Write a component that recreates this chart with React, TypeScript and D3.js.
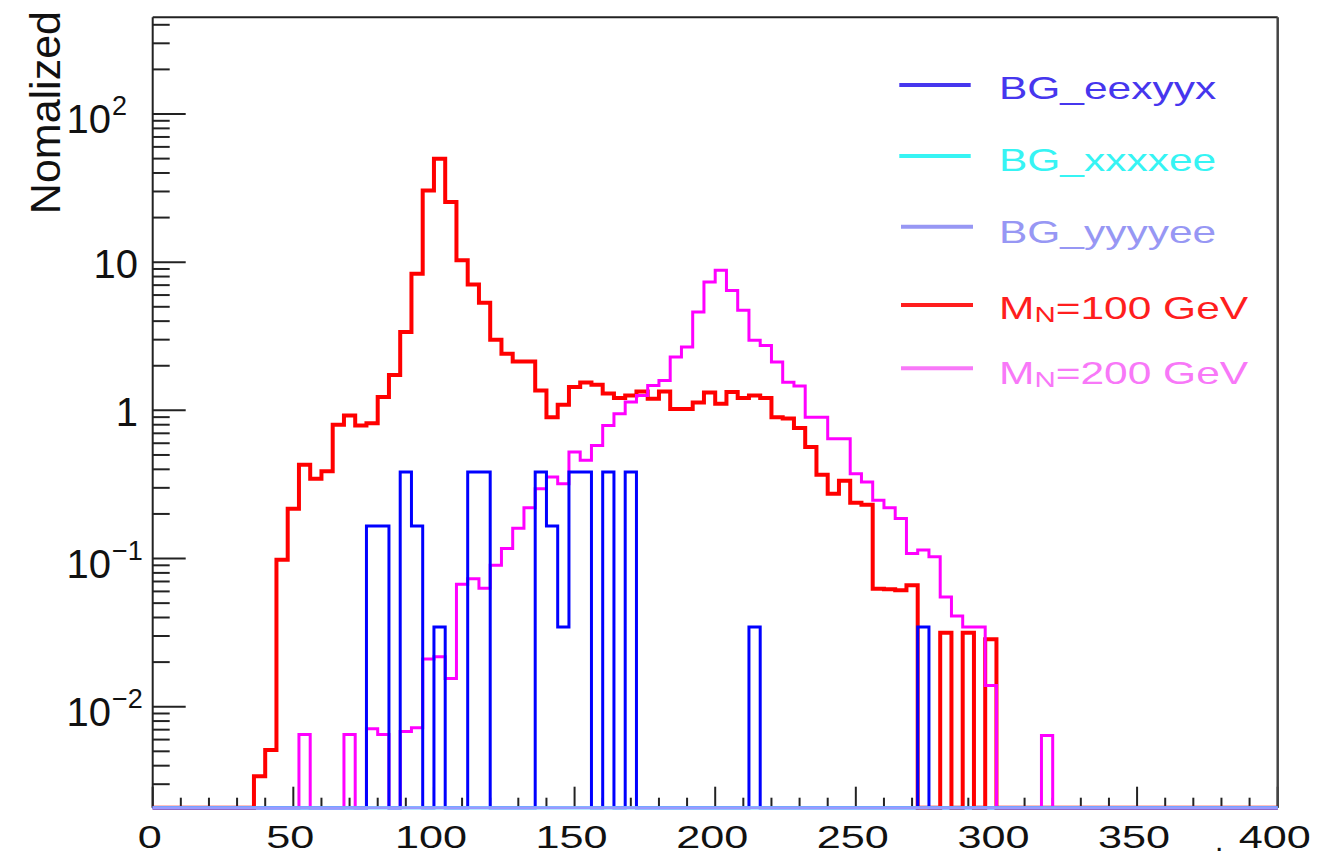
import React from "react";
import * as d3 from "d3";

// 100 bins, 4 GeV wide, 0..400
const binLow = d3.range(0, 400, 4);

const bgEexyyx = [
  0, 0, 0, 0, 0, 0, 0, 0, 0, 0,
  0, 0, 0, 0, 0, 0, 0, 0, 0, 0.166,
  0.166, 0, 0.384, 0.166, 0, 0.0345, 0, 0, 0.384, 0.384,
  0, 0, 0, 0, 0.384, 0.166, 0.0345, 0.384, 0.384, 0,
  0.384, 0, 0.384, 0, 0, 0, 0, 0, 0, 0,
  0, 0, 0, 0.0345, 0, 0, 0, 0, 0, 0,
  0, 0, 0, 0, 0, 0, 0, 0, 0.0345, 0,
  0, 0, 0, 0, 0, 0, 0, 0, 0, 0,
  0, 0, 0, 0, 0, 0, 0, 0, 0, 0,
  0, 0, 0, 0, 0, 0, 0, 0, 0, 0,
];

const bgXxxxee = [
  0, 0, 0, 0, 0, 0, 0, 0, 0, 0,
  0, 0, 0, 0, 0, 0, 0, 0, 0, 0,
  0, 0, 0, 0, 0, 0, 0, 0, 0, 0,
  0, 0, 0, 0, 0, 0, 0, 0, 0, 0,
  0, 0, 0, 0, 0, 0, 0, 0, 0, 0,
  0, 0, 0, 0, 0, 0, 0, 0, 0, 0,
  0, 0, 0, 0, 0, 0, 0, 0, 0, 0,
  0, 0, 0, 0, 0, 0, 0, 0, 0, 0,
  0, 0, 0, 0, 0, 0, 0, 0, 0, 0,
  0, 0, 0, 0, 0, 0, 0, 0, 0, 0,
];

const bgYyyyee = [
  0, 0, 0, 0, 0, 0, 0, 0, 0, 0,
  0, 0, 0, 0, 0, 0, 0, 0, 0, 0,
  0, 0, 0, 0, 0, 0, 0, 0, 0, 0,
  0, 0, 0, 0, 0, 0, 0, 0, 0, 0,
  0, 0, 0, 0, 0, 0, 0, 0, 0, 0,
  0, 0, 0, 0, 0, 0, 0, 0, 0, 0,
  0, 0, 0, 0, 0, 0, 0, 0, 0, 0,
  0, 0, 0, 0, 0, 0, 0, 0, 0, 0,
  0, 0, 0, 0, 0, 0, 0, 0, 0, 0,
  0, 0, 0, 0, 0, 0, 0, 0, 0, 0,
];

const mn100 = [
  0, 0, 0, 0, 0, 0, 0, 0, 0, 0.0034,
  0.0051, 0.098, 0.217, 0.43, 0.346, 0.388, 0.8, 0.925, 0.79, 0.82,
  1.23, 1.73, 3.38, 8.36, 30.5, 49.9, 25.5, 10.3, 7.08, 5.33,
  3.0, 2.41, 2.14, 2.14, 1.36, 0.9, 1.09, 1.44, 1.54, 1.49,
  1.3, 1.21, 1.26, 1.34, 1.2, 1.34, 1.02, 1.02, 1.13, 1.32,
  1.11, 1.33, 1.21, 1.26, 1.21, 0.9, 0.88, 0.76, 0.566, 0.368,
  0.274, 0.335, 0.238, 0.231, 0.0626, 0.062, 0.061, 0.066, 0, 0,
  0.0316, 0, 0.0316, 0, 0.0285, 0, 0, 0, 0, 0,
  0, 0, 0, 0, 0, 0, 0, 0, 0, 0,
  0, 0, 0, 0, 0, 0, 0, 0, 0, 0,
];

const mn200 = [
  0, 0, 0, 0, 0, 0, 0, 0, 0, 0,
  0, 0, 0, 0.0065, 0, 0, 0, 0.0065, 0, 0.0071,
  0.0065, 0, 0.0068, 0.0072, 0.021, 0.0217, 0.0155, 0.067, 0.073, 0.063,
  0.09, 0.117, 0.16, 0.22, 0.296, 0.355, 0.32, 0.524, 0.46, 0.58,
  0.79, 0.95, 1.14, 1.26, 1.47, 1.59, 2.29, 2.68, 4.61, 7.35,
  8.81, 6.45, 4.73, 2.97, 2.74, 2.12, 1.55, 1.46, 0.9, 0.9,
  0.644, 0.644, 0.374, 0.329, 0.247, 0.22, 0.186, 0.108, 0.114, 0.103,
  0.055, 0.041, 0.0345, 0.0345, 0.0139, 0, 0, 0, 0, 0.0064,
  0, 0, 0, 0, 0, 0, 0, 0, 0, 0,
  0, 0, 0, 0, 0, 0, 0, 0, 0, 0,
];

const legendLabels = ["BG_eexyyx", "BG_xxxxee", "BG_yyyyee", "M_N=100 GeV", "M_N=200 GeV"];
const xLabelValues = [0, 50, 100, 150, 200, 250, 300, 350, 400];
const yLabelValues = [100, 10, 1, 0.1, 0.01];
const yLabelBase = ["10", "10", "1", "10", "10"];
const yLabelExp = ["2", "", "", "\u22121", "\u22122"];

const FONT = "'Liberation Sans', Arial, Helvetica, sans-serif";

export default function App() {
  const x = d3.scaleLinear().domain([0, 400]).range([152.7, 1277.7]);
  const yMin = 0.002082;
  const y = d3.scaleLog().domain([yMin, 449.4]).range([807.7, 17.3]);
  const yPos = (v: number) => (v > yMin ? y(v) : y(yMin));

  const step = d3
    .line<[number, number]>()
    .x((d) => x(d[0]))
    .y((d) => yPos(d[1]))
    .curve(d3.curveStepAfter);
  const histPath = (vals: number[]) =>
    step([...binLow.map((b, i) => [b, vals[i]] as [number, number]), [400, vals[vals.length - 1]]]) || "";

  // drawing order: signals first, backgrounds on top
  const hists = [
    { vals: mn100, color: "#ff0000", w: 4 },
    { vals: mn200, color: "#ff00ff", w: 3 },
    { vals: bgEexyyx, color: "#0000ff", w: 3 },
    { vals: bgXxxxee, color: "#00ffff", w: 3 },
    { vals: bgYyyyee, color: "#9999ff", w: 3 },
  ];

  const legendColors = ["#4636ee", "#36f4f4", "#9797f4", "#ff1e1e", "#f878f8"];
  const legendLineY = [85, 156, 226.7, 305, 368.3];
  const legendTextY = [99.3, 170.7, 242.7, 319.3, 384];

  const xTicks = d3.range(0, 401, 10);
  const yMinor: number[] = [];
  for (let k = -3; k <= 2; k++) {
    for (let m = 2; m <= 9; m++) {
      const v = m * Math.pow(10, k);
      if (v > yMin && v < 449.4) yMinor.push(v);
    }
  }

  return (
    <svg
      width={1317}
      height={857}
      style={{ position: "absolute", left: 0, top: 0, background: "#fff" }}
      fontFamily={FONT}
    >
      <rect width={1317} height={857} fill="#fff" />

      {/* y axis ticks */}
      {yLabelValues.map((v) => (
        <line key={"ym" + v} x1={152.7} x2={185.7} y1={y(v)} y2={y(v)} stroke="#222" strokeWidth={2} />
      ))}
      {yMinor.map((v) => (
        <line key={"yn" + v} x1={152.7} x2={169.7} y1={y(v)} y2={y(v)} stroke="#222" strokeWidth={2} />
      ))}

      {/* x axis ticks */}
      {xTicks.map((v) => (
        <line
          key={"xt" + v}
          x1={x(v)}
          x2={x(v)}
          y1={807.7}
          y2={v % 50 === 0 ? 786.7 : 797.7}
          stroke="#222"
          strokeWidth={2}
        />
      ))}

      {/* frame */}
      <line x1={152.7} x2={1277.7} y1={17.3} y2={17.3} stroke="#222" strokeWidth={2} />
      <line x1={152.7} x2={152.7} y1={17.3} y2={807.7} stroke="#222" strokeWidth={2} />
      <line x1={1277.7} x2={1277.7} y1={17.3} y2={807.7} stroke="#444" strokeWidth={2.5} />

      {/* histograms */}
      {hists.map((h, i) => (
        <path key={"h" + i} d={histPath(h.vals)} fill="none" stroke={h.color} strokeWidth={h.w} />
      ))}

      {/* x labels */}
      {xLabelValues.map((v) => (
        <text
          key={"xl" + v}
          transform={`translate(${x(v) - 3},848) scale(1.35,1)`}
          textAnchor="middle"
          fontSize={32}
          fill="#111"
        >
          {v}
        </text>
      ))}
      <text transform="translate(1215,851)" fontSize={30} fill="#111">.</text>

      {/* y labels */}
      {yLabelValues.map((v, i) =>
        yLabelExp[i] ? (
          <g key={"yl" + v}>
            <text x={111} y={y(v) + 19} textAnchor="end" fontSize={40} fill="#111">
              {yLabelBase[i]}
            </text>
            <text x={112} y={y(v) + 1} fontSize={27} fill="#111">
              {yLabelExp[i]}
            </text>
          </g>
        ) : (
          <text key={"yl" + v} x={138} y={y(v) + 15.5} textAnchor="end" fontSize={40} fill="#111">
            {yLabelBase[i]}
          </text>
        )
      )}

      {/* y title */}
      <text transform="translate(60,11) rotate(-90)" textAnchor="end" fontSize={43} fill="#111">
        Nomalized
      </text>

      {/* legend */}
      {legendLabels.map((lab, i) => (
        <g key={"lg" + i}>
          <line
            x1={i < 2 ? 899.3 : 901}
            x2={i < 2 ? 970.7 : 973}
            y1={legendLineY[i]}
            y2={legendLineY[i]}
            stroke={legendColors[i]}
            strokeWidth={4}
          />
          <text
            transform={`translate(999,${legendTextY[i]}) scale(1.34,1)`}
            fontSize={31.7}
            fill={legendColors[i]}
          >
            {lab.startsWith("M_N") ? (
              <>
                <tspan>M</tspan>
                <tspan fontSize={22} dy={2.5}>N</tspan>
                <tspan dy={-2.5}>{lab.slice(3)}</tspan>
              </>
            ) : (
              lab
            )}
          </text>
        </g>
      ))}
    </svg>
  );
}
